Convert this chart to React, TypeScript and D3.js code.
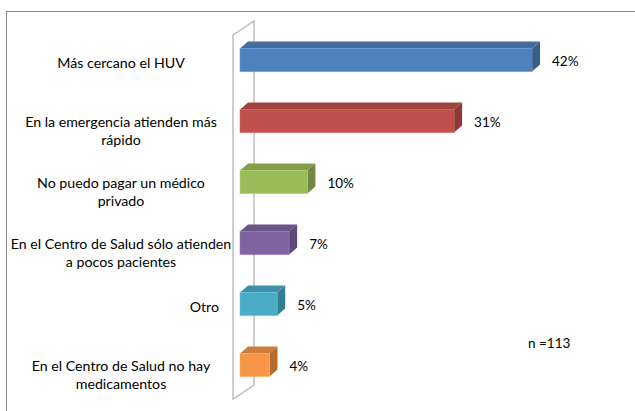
import React from "react";
import * as d3 from "d3";

const categories = [
  "Más cercano el HUV",
  "En la emergencia atienden más\nrápido",
  "No puedo pagar un médico\nprivado",
  "En el Centro de Salud sólo atienden\na pocos pacientes",
  "Otro",
  "En el Centro de Salud no hay\nmedicamentos",
];
const values = [41.6, 30.5, 9.6, 7.0, 5.3, 4.2];
const colors = ["#4F81BD", "#C0504D", "#9BBB59", "#8064A2", "#4BACC6", "#F79646"];
const noteText = "n =113";

const W = 635;
const H = 411;
const FONT = "Lato, 'Open Sans', sans-serif";

export default function App() {
  const x = d3.scaleLinear().domain([0, 45]).range([240, 240 + 45 * 7.02]);
  const y = d3.scalePoint<string>().domain(categories).range([29.5, 395.5]).padding(0.5);
  const step = y.step();
  const h = step * 0.38;
  const dx = 8;
  const dy = -7;

  const wallX = x(0) - 7;
  const wallDX = 21;
  const wallDY = -14;
  const wallTop = y.range()[0] + 5.5;
  const wallBot = y.range()[1] + 3.5;

  const line = d3.line();

  return (
    <div style={{ position: "absolute", left: 0, top: 0 }}>
      <svg width={W} height={H} style={{ display: "block", background: "#fff" }}>
        <rect x={6.5} y={11.5} width={W + 10} height={H + 10} fill="#fff" stroke="#868686" strokeWidth={1} />
        {/* side wall */}
        <g fill="none" stroke="#BFBFBF" strokeWidth={1.5}>
          <path d={line([[wallX, wallTop], [wallX, wallBot], [wallX + wallDX, wallBot + wallDY], [wallX + wallDX, wallTop + wallDY], [wallX, wallTop]]) || ""} />
        </g>
        {/* bars */}
        {categories.map((c, i) => {
          const cy = y(c) as number;
          const x0 = x(0);
          const x1 = x(values[i]);
          const top = cy - h / 2;
          const bot = cy + h / 2;
          const base = d3.color(colors[i])!;
          const topCol = (d3.color(colors[i]) as d3.RGBColor).darker(0.5).formatHex();
          const sideCol = (d3.color(colors[i]) as d3.RGBColor).darker(0.9).formatHex();
          const light = (d3.color(colors[i]) as d3.RGBColor).brighter(0.4).formatHex();
          return (
            <g key={c}>
              <path
                d={line([[x0, top], [x1, top], [x1 + dx, top + dy], [x0 + dx, top + dy]])! + "Z"}
                fill={topCol}
              />
              <path
                d={line([[x1, top], [x1 + dx, top + dy], [x1 + dx, bot + dy], [x1, bot]])! + "Z"}
                fill={sideCol}
              />
              <rect x={x0} y={top} width={x1 - x0} height={h} fill={base.formatHex()} stroke={light} strokeOpacity={0.5} strokeWidth={1} />
              <text
                x={x1 + 20}
                y={cy + 1}
                dy="0.35em"
                fontFamily={FONT}
                fontSize={13.5}
                fill="#000"
              >
                {Math.round(values[i]) + "%"}
              </text>
            </g>
          );
        })}
        {/* category labels */}
        {categories.map((c) => {
          const cy = y(c) as number;
          const lines = c.split("\n");
          const single = lines.length === 1 && !c.includes(" ");
          return (
            <text
              key={"l" + c}
              fontFamily={FONT}
              fontSize={14.2}
              fill="#000"
              textAnchor={single ? "end" : "middle"}
            >
              {lines.map((ln, j) => (
                <tspan key={j} x={single ? wallX - 14 : 121} y={cy + (lines.length === 1 ? 3 : 1) + j * 18} dy="0.35em">
                  {ln}
                </tspan>
              ))}
            </text>
          );
        })}
        <text x={528} y={343} dy="0.35em" fontFamily={FONT} fontSize={13.5} fill="#000">
          {noteText}
        </text>
      </svg>
    </div>
  );
}
